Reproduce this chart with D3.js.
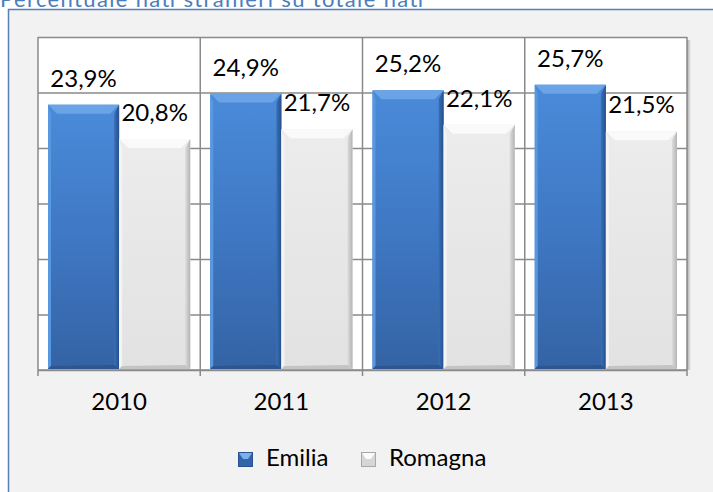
<!DOCTYPE html>
<html>
<head>
<meta charset="utf-8">
<script src="https://cdnjs.cloudflare.com/ajax/libs/d3/7.8.5/d3.min.js"></script>
<style>
  body { margin: 0; background: #ffffff; }
  svg { display: block; font-family: Lato, "Open Sans", sans-serif; }
</style>
</head>
<body>
<div id="chart"></div>
<script>
// Data
const title = "Percentuale nati stranieri su totale nati";
const years = ["2010", "2011", "2012", "2013"];
const series = ["Emilia", "Romagna"];
const emilia = [23.9, 24.9, 25.2, 25.7];
const romagna = [20.8, 21.7, 22.1, 21.5];
const yTicks = [0, 5, 10, 15, 20, 25, 30];

const values = { Emilia: emilia, Romagna: romagna };
const data = years.map((y, i) => ({ year: y, vals: series.map(s => ({ key: s, value: values[s][i] })) }));

const W = 713, H = 492;
const plot = { left: 38, right: 687, top: 37, bottom: 370 };

const svg = d3.select("#chart").append("svg")
    .attr("width", W)
    .attr("height", H);

const defs = svg.append("defs");

// gradients for the bevelled bars
function vGrad(id, stops) {
    const g = defs.append("linearGradient").attr("id", id)
        .attr("x1", 0).attr("y1", 0).attr("x2", 0).attr("y2", 1);
    stops.forEach(s => g.append("stop").attr("offset", s[0]).attr("stop-color", s[1]));
}
function hGrad(id, stops) {
    const g = defs.append("linearGradient").attr("id", id)
        .attr("x1", 0).attr("y1", 0).attr("x2", 1).attr("y2", 0);
    stops.forEach(s => g.append("stop").attr("offset", s[0]).attr("stop-color", s[1]));
}
vGrad("emiliaBody", [[0, "#4a8bd9"], [0.5, "#3f78c4"], [1, "#3463a4"]]);
vGrad("romagnaBody", [[0, "#ececec"], [1, "#e2e2e2"]]);
hGrad("emiliaRight", [[0, "#3a70b8"], [1, "#24508c"]]);
hGrad("romagnaRight", [[0, "#dcdcdc"], [1, "#b4b4b4"]]);
hGrad("plotShadow", [[0, "#a8a8a8"], [1, "#f2f2f2"]]);

const style = {
    Emilia: { body: "url(#emiliaBody)", top: "#6aa3e6", left: "#5898e0", right: "url(#emiliaRight)", bottom: "#2d5690",
              key: "#3464a8", keyTop: "#79b0ee", keyEdge: "#2a5190" },
    Romagna: { body: "url(#romagnaBody)", top: "#fafafa", left: "#f4f4f4", right: "url(#romagnaRight)", bottom: "#c4c4c4",
               key: "#d6d6d6", keyTop: "#fbfbfb", keyEdge: "#a8a8a8" }
};

// title (partly cut off at the top, as in the source)
svg.append("text")
    .attr("x", 0)
    .attr("y", 7)
    .attr("font-size", "22px")
    .attr("fill", "#4a7ebb")
    .attr("textLength", 423)
    .text(title);

// outer frame
svg.append("rect")
    .attr("x", 8.5)
    .attr("y", 9.5)
    .attr("width", W)
    .attr("height", H)
    .attr("fill", "#f2f2f2")
    .attr("stroke", "#5a7db5")
    .attr("stroke-width", 1.5);

// plot area shadow and background
svg.append("rect")
    .attr("x", plot.right)
    .attr("y", plot.top + 3)
    .attr("width", 4)
    .attr("height", plot.bottom - plot.top - 3)
    .attr("fill", "url(#plotShadow)");
svg.append("rect")
    .attr("x", plot.left)
    .attr("y", plot.top)
    .attr("width", plot.right - plot.left)
    .attr("height", plot.bottom - plot.top)
    .attr("fill", "#ffffff");

const x0 = d3.scaleBand()
    .domain(years)
    .range([plot.left, plot.right]);

const x1 = d3.scaleBand()
    .domain(series)
    .range([10, x0.bandwidth() - 10]);

const y = d3.scaleLinear()
    .domain([0, 30])
    .range([plot.bottom, plot.top]);

// horizontal gridlines
svg.append("g")
    .attr("transform", `translate(${plot.left},0)`)
    .call(d3.axisLeft(y).tickValues(yTicks).tickSize(-(plot.right - plot.left)).tickFormat(""))
    .call(g => g.select(".domain").remove())
    .call(g => g.selectAll(".tick line").attr("stroke", "#8a8a8a").attr("stroke-width", 1.5));

// vertical category lines
svg.append("g")
    .selectAll("line")
    .data(years.concat(["end"]))
    .join("line")
    .attr("x1", (d, i) => i < years.length ? x0(d) : plot.right)
    .attr("x2", (d, i) => i < years.length ? x0(d) : plot.right)
    .attr("y1", plot.top)
    .attr("y2", plot.bottom + 6)
    .attr("stroke", "#8a8a8a")
    .attr("stroke-width", 1.5);

// bars
const b = 9;
const groups = svg.append("g")
    .selectAll("g")
    .data(data)
    .join("g")
    .attr("transform", d => `translate(${x0(d.year)},0)`);

const bars = groups.selectAll("g")
    .data(d => d.vals)
    .join("g");

bars.each(function (d) {
    const g = d3.select(this);
    const bx = x1(d.key), bw = x1.bandwidth();
    const top = y(d.value), bot = y(0) - 1;
    const s = style[d.key];
    g.append("rect").attr("x", bx).attr("y", top).attr("width", bw).attr("height", bot - top).attr("fill", s.body);
    // left edge
    g.append("polygon").attr("points", [[bx, top], [bx + 3, top + b], [bx + 3, bot - 3], [bx, bot]].join(" ")).attr("fill", s.left);
    // right edge
    g.append("polygon").attr("points", [[bx + bw, top], [bx + bw - 5, top + b], [bx + bw - 5, bot - 4], [bx + bw, bot]].join(" ")).attr("fill", s.right);
    // bottom edge
    g.append("polygon").attr("points", [[bx, bot], [bx + 3, bot - 3], [bx + bw - 5, bot - 4], [bx + bw, bot]].join(" ")).attr("fill", s.bottom);
    // top bevel
    g.append("polygon").attr("points", [[bx, top], [bx + bw, top], [bx + bw - b, top + b], [bx + b, top + b]].join(" ")).attr("fill", s.top);
});

// value labels
bars.append("text")
    .attr("x", d => x1(d.key) + x1.bandwidth() / 2)
    .attr("y", d => y(d.value) - 18)
    .attr("text-anchor", "middle")
    .attr("font-size", "24px")
    .attr("fill", "#000")
    .text(d => d.value.toFixed(1).replace(".", ",") + "%");

// x axis line
svg.append("line")
    .attr("x1", plot.left)
    .attr("x2", plot.right)
    .attr("y1", plot.bottom)
    .attr("y2", plot.bottom)
    .attr("stroke", "#8a8a8a")
    .attr("stroke-width", 1.5);

// year labels
svg.append("g")
    .selectAll("text")
    .data(years)
    .join("text")
    .attr("x", d => x0(d) + x0.bandwidth() / 2)
    .attr("y", 410)
    .attr("text-anchor", "middle")
    .attr("font-size", "24px")
    .attr("fill", "#000")
    .text(d => d);

// legend
const legendItems = [
    { key: "Emilia", x: 238 },
    { key: "Romagna", x: 361 }
];
const legend = svg.append("g").attr("class", "legend");
legendItems.forEach(item => {
    const s = style[item.key];
    legend.append("rect")
        .attr("x", item.x + 0.5)
        .attr("y", 452.5)
        .attr("width", 14)
        .attr("height", 14)
        .attr("fill", s.key)
        .attr("stroke", s.keyEdge)
        .attr("stroke-width", 1);
    legend.append("polygon")
        .attr("points", [[item.x + 1, 453], [item.x + 14, 453], [item.x + 10, 459], [item.x + 5, 459]].join(" "))
        .attr("fill", s.keyTop);
    legend.append("text")
        .attr("x", item.x + 28)
        .attr("y", 466)
        .attr("font-size", "24px")
        .attr("fill", "#000")
        .text(item.key);
});
</script>
</body>
</html>
